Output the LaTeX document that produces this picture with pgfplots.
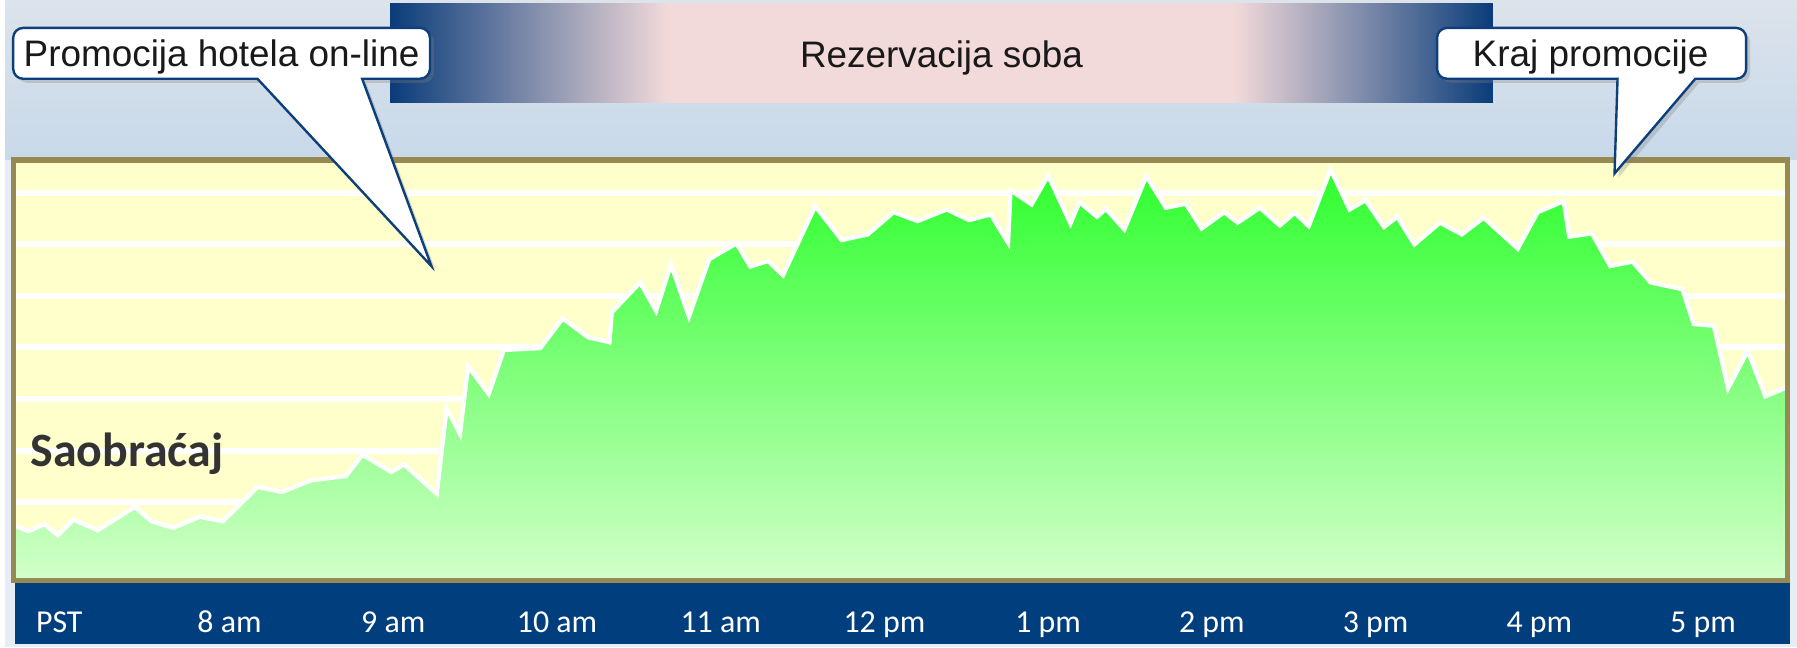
\documentclass[border=0pt]{standalone}
\usepackage{pgfplots}
\pgfplotsset{compat=1.18}
\usepackage{fontspec}
\setmainfont{Liberation Sans}
\newfontfamily\calfont{Carlito}
\usetikzlibrary{shadows}
\definecolor{plotyellow}{HTML}{FFFFCC}
\definecolor{boxolive}{HTML}{968A52}
\definecolor{bandblue}{HTML}{003E7E}
\definecolor{cblue}{HTML}{0D3F7A}
\definecolor{grtop}{HTML}{2EFF2E}
\definecolor{grmid}{HTML}{9CFF90}
\definecolor{grbot}{HTML}{D2FFCA}
\definecolor{textgray}{HTML}{333333}
\definecolor{bdark}{HTML}{0A3C7A}
\definecolor{bpink}{HTML}{F2DADA}
\definecolor{skytop}{HTML}{DCE3EB}
\definecolor{skymid}{HTML}{C8D9EA}
\definecolor{skybot}{HTML}{E6EDF5}

\pgfplotstableread{
h v
6.6815 1.553
6.772 1.437
6.869 1.573
6.951 1.360
7.046 1.663
7.194 1.456
7.421 1.909
7.523 1.631
7.655 1.503
7.817 1.716
7.959 1.631
8.172 2.296
8.321 2.199
8.498 2.424
8.711 2.509
8.812 2.921
8.988 2.586
9.066 2.733
9.265 2.166
9.326 3.824
9.407 3.327
9.457 4.636
9.583 4.101
9.675 4.952
9.898 4.990
10.034 5.565
10.192 5.197
10.284 5.132
10.320 5.101
10.334 5.681
10.507 6.261
10.605 5.712
10.696 6.615
10.806 5.603
10.929 6.712
11.096 7.021
11.181 6.571
11.289 6.679
11.380 6.402
11.577 7.743
11.739 7.085
11.898 7.195
12.056 7.627
12.202 7.453
12.381 7.679
12.517 7.472
12.649 7.582
12.755 7.035
12.770 8.052
12.898 7.776
13.000 8.337
13.136 7.408
13.191 7.820
13.298 7.538
13.353 7.692
13.465 7.292
13.599 8.323
13.719 7.712
13.840 7.789
13.938 7.311
14.076 7.627
14.157 7.422
14.293 7.712
14.415 7.369
14.506 7.615
14.591 7.356
14.725 8.453
14.841 7.679
14.939 7.859
15.051 7.337
15.132 7.538
15.237 7.002
15.393 7.422
15.526 7.195
15.660 7.518
15.868 6.919
15.990 7.627
16.149 7.839
16.183 7.151
16.321 7.215
16.433 6.582
16.569 6.667
16.680 6.261
16.873 6.132
16.944 5.455
17.066 5.422
17.153 4.211
17.273 4.938
17.381 4.056
17.516 4.230
}\traffic

\begin{document}
\begin{tikzpicture}
% background sky
\fill[skybot] (0,0) rectangle (898.5pt,245pt);
\shade[top color=skytop, bottom color=skymid] (0,244.5pt) rectangle (898.5pt,324.5pt);
% banner
\shade[left color=bdark, right color=bpink] (193pt,273pt) rectangle (332.5pt,322.75pt);
\fill[bpink] (332.4pt,273pt) rectangle (616.1pt,322.75pt);
\shade[left color=bpink, right color=bdark] (616pt,273pt) rectangle (746pt,322.75pt);
\node[anchor=base, font=\fontsize{18.5}{20}\selectfont, text=black!90] at (469.5pt,290.5pt) {Rezervacija soba};
% blue band
\fill[bandblue] (5pt,1.5pt) rectangle (895pt,32pt);

\begin{axis}[
  at={(4.25pt,33.25pt)}, anchor=south west,
  scale only axis, width=889.5pt, height=211pt,
  xmin=6.6815, xmax=17.516, ymin=0.474, ymax=8.636,
  axis background/.style={fill=plotyellow},
  axis line style={draw=none},
  ytick={1,2,...,8}, yticklabels={},
  ymajorgrids, major grid style={white, line width=3pt},
  xtick={6.96,8,9,10,11,12,13,14,15,16,17},
  xticklabels={PST,8 am,9 am,10 am,11 am,12 pm,1 pm,2 pm,3 pm,4 pm,5 pm},
  major tick length=0pt,
  xticklabel style={font=\calfont\fontsize{16}{18}\selectfont, text=white, anchor=base, yshift=-26pt},
  clip=true,
]
\addplot[draw=none, top color=grtop, middle color=grmid, bottom color=grbot] table[x=h, y=v] {\traffic} \closedcycle;
\addplot[white, line width=2.2pt, line join=miter, miter limit=4, mark=none] table[x=h, y=v] {\traffic};
\end{axis}
% plot border
\draw[boxolive, line width=2.6pt] (4.25pt,33.25pt) rectangle (893.75pt,244.25pt);
% label
\node[anchor=base west, inner sep=0pt, text=textgray, font=\calfont\bfseries\fontsize{24}{26}\selectfont] at (12.5pt,90.5pt) {Saobraćaj};
% callout 1
\draw[fill=white, draw=cblue, line width=1.2pt, drop shadow={shadow xshift=2pt, shadow yshift=-2pt, opacity=0.3}]
  (108pt,310.5pt) [rounded corners=5pt] -- (213pt,310.5pt) -- (213pt,285pt) [sharp corners] -- (179pt,285pt) -- (213.75pt,191pt) -- (126.5pt,285pt) [rounded corners=5pt] -- (4pt,285pt) -- (4pt,310.5pt) -- cycle;
\node[anchor=base, font=\fontsize{18.5}{20}\selectfont, text=black!90] at (108.5pt,291.15pt) {Promocija hotela on-line};
% callout 2
\draw[fill=white, draw=cblue, line width=1.2pt, drop shadow={shadow xshift=2pt, shadow yshift=-2pt, opacity=0.3}]
  (795pt,310.5pt) [rounded corners=5pt] -- (873pt,310.5pt) -- (873pt,285pt) [sharp corners] -- (847.5pt,285pt) -- (807pt,237.5pt) -- (808.5pt,285pt) [rounded corners=5pt] -- (718pt,285pt) -- (718pt,310.5pt) -- cycle;
\node[anchor=base, font=\fontsize{18.5}{20}\selectfont, text=black!90] at (795pt,291.15pt) {Kraj promocije};
\end{tikzpicture}
\end{document}
